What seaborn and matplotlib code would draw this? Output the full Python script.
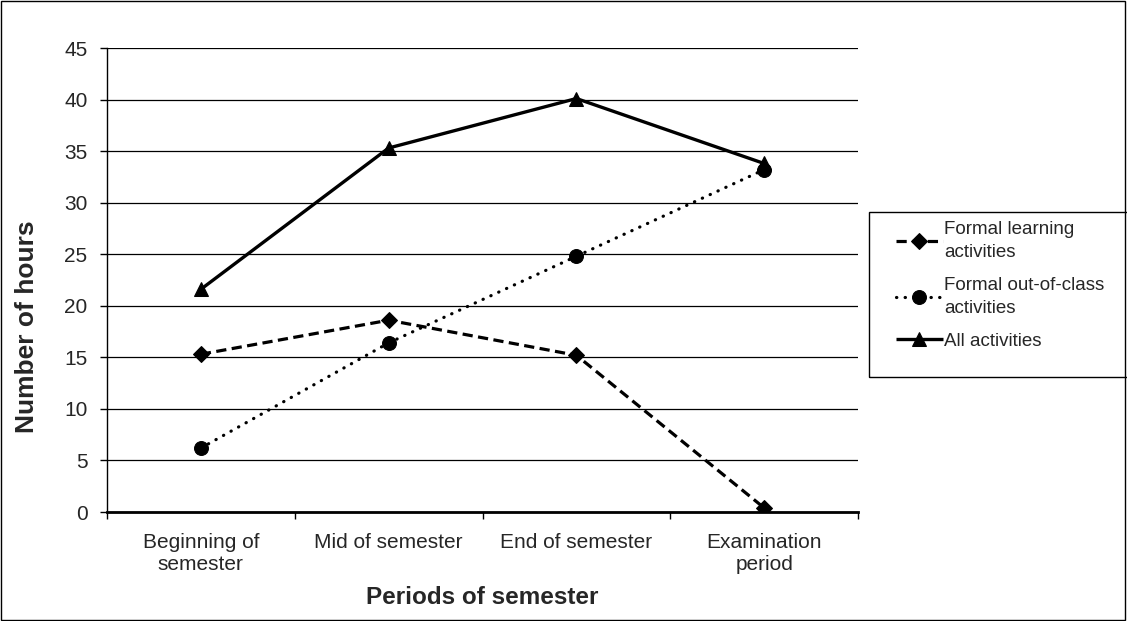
import matplotlib
matplotlib.use("Agg")
import matplotlib.pyplot as plt
import seaborn as sns
import pandas as pd
from matplotlib.patches import Rectangle
from matplotlib.ticker import FixedLocator

periods = ["Beginning of\nsemester", "Mid of semester", "End of semester", "Examination\nperiod"]
formal_learning = [15.3, 18.6, 15.2, 0.4]
out_of_class = [6.2, 16.4, 24.8, 33.2]
all_activities = [21.6, 35.3, 40.1, 33.8]
series_names = ["Formal learning\nactivities", "Formal out-of-class\nactivities", "All activities"]

rows = []
for name, vals in zip(series_names, [formal_learning, out_of_class, all_activities]):
    for i, v in enumerate(vals):
        rows.append({"idx": i, "hours": v, "series": name})
df = pd.DataFrame(rows)

sns.set_style("white")
plt.rcParams["font.family"] = ["Liberation Sans", "DejaVu Sans"]

W, H = 1127, 621
fig = plt.figure(figsize=(W / 100, H / 100), dpi=100)
ax = fig.add_axes([107 / W, 1 - 512 / H, 751 / W, 464 / H])

styles = {
    series_names[0]: dict(ls=(0, (3.2, 1.7)), marker="D", ms=8, lw=2.3, cap="butt"),
    series_names[1]: dict(ls=(0, (0.1, 2.6)), marker="o", ms=10, lw=2.3, cap="round"),
    series_names[2]: dict(ls="-", marker="^", ms=10, lw=2.4, cap="butt"),
}
for name in series_names:
    st = styles[name]
    sub = df[df["series"] == name]
    sns.lineplot(data=sub, x="idx", y="hours", ax=ax, color="black",
                 linestyle=st["ls"], marker=st["marker"], markersize=st["ms"],
                 linewidth=st["lw"], markeredgecolor="black", label=name,
                 dash_capstyle=st["cap"], solid_capstyle="butt")

ax.set_xlim(-0.5, 3.5)
ax.set_ylim(0, 45)
ax.set_yticks(range(0, 46, 5))
ax.set_xticks(range(len(periods)))
ax.set_xticklabels(periods, fontsize=15, linespacing=1.2)
ax.xaxis.set_minor_locator(FixedLocator([-0.5, 0.5, 1.5, 2.5, 3.5]))
ax.tick_params(axis="x", which="major", length=0, pad=15)
ax.tick_params(axis="x", which="minor", length=5, width=1, color="black", direction="out", bottom=True)
ax.tick_params(axis="y", labelsize=15, length=5, width=1, color="black", direction="out", left=True, pad=9)
ax.yaxis.grid(True, color="black", linewidth=0.9)
ax.set_axisbelow(True)
for s in ["top", "right"]:
    ax.spines[s].set_visible(False)
ax.spines["left"].set_color("black")
ax.spines["left"].set_linewidth(1)
ax.spines["bottom"].set_color("black")
ax.spines["bottom"].set_linewidth(2)

ax.set_xlabel("Periods of semester", fontsize=17.5, fontweight="bold")
ax.set_ylabel("Number of hours", fontsize=19, fontweight="bold")
ax.xaxis.set_label_coords(0.5, -0.160)
ax.yaxis.set_label_coords(-0.090, 0.40)

# legend box drawn separately (taller than its contents, like the original)
fig.patches.append(Rectangle((869 / W, 1 - 377 / H), 262 / W, 165 / H, transform=fig.transFigure,
                             fill=False, edgecolor="black", linewidth=1))
leg = ax.legend(loc="upper left", bbox_to_anchor=(896 / W, 1 - 221 / H),
                bbox_transform=fig.transFigure, frameon=False,
                fontsize=13.5, handlelength=2.5, borderaxespad=0, labelspacing=0.85,
                handletextpad=0.05, borderpad=0)
for t in leg.get_texts():
    t.set_linespacing(1.45)

fig.patches.append(Rectangle((0.0005, 0.001), 0.998, 0.997, transform=fig.transFigure,
                             fill=False, edgecolor="black", linewidth=1))

fig.savefig("out.png", dpi=100)
